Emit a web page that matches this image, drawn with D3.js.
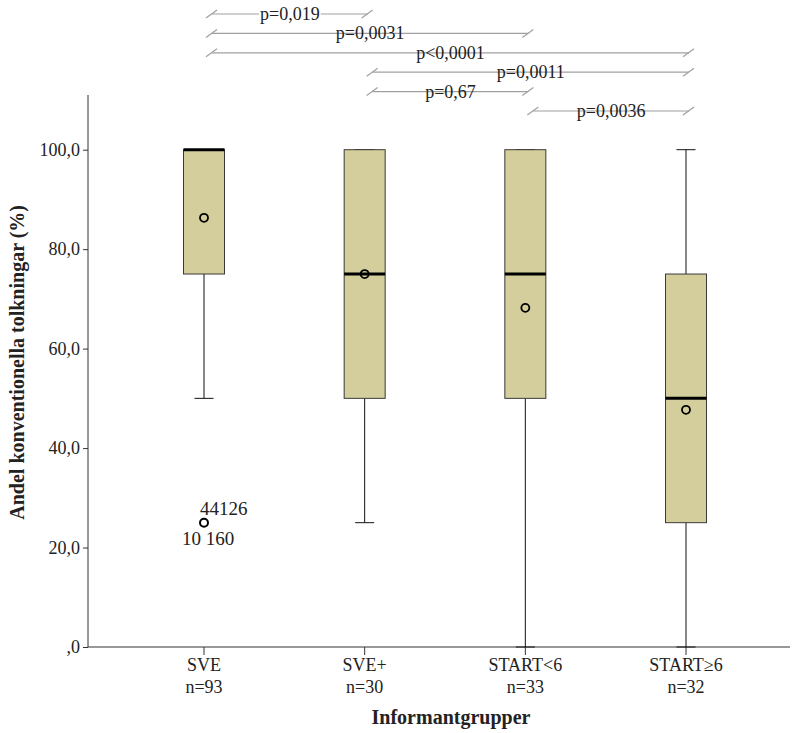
<!DOCTYPE html>
<html>
<head>
<meta charset="utf-8">
<script src="https://cdn.jsdelivr.net/npm/d3@7"></script>
<style>
  body { margin: 0; background: #fff; }
  svg text { font-family: "Liberation Serif", "Times New Roman", serif; fill: #222; }
</style>
</head>
<body>
<div id="viz"></div>
<script>
'use strict';

// groups and their sizes
const groups = ['SVE', 'SVE+', 'START<6', 'START≥6'];
const counts = [93, 30, 33, 32];

// box stats per group (percent)
const whiskLo = [50, 25, 0, 0];
const q1 = [75, 50, 50, 25];
const median = [100, 75, 75, 50];
const q3 = [100, 100, 100, 75];
const whiskHi = [100, 100, 100, 100];
const means = [86.3, 75.0, 68.2, 47.7];

// outliers
const outliers = [{group: 'SVE', value: 25, top: '44126', bottom: '10 160'}];

// y ticks
const yTicks = [0, 20, 40, 60, 80, 100];
const yTickLabels = [',0', '20,0', '40,0', '60,0', '80,0', '100,0'];

// pairwise comparisons
const pairs = [
  {from: 'SVE', to: 'SVE+', label: 'p=0,019'},
  {from: 'SVE', to: 'START<6', label: 'p=0,0031'},
  {from: 'SVE', to: 'START≥6', label: 'p<0,0001'},
  {from: 'SVE+', to: 'START≥6', label: 'p=0,0011'},
  {from: 'SVE+', to: 'START<6', label: 'p=0,67'},
  {from: 'START<6', to: 'START≥6', label: 'p=0,0036'}
];

const W = 796, H = 733;
const axisX = 88, axisY = 647;

const svg = d3.select('#viz')
  .append('svg')
    .attr('width', W)
    .attr('height', H);

const x = d3.scalePoint()
  .domain(groups)
  .range([204, 686]);

const y = d3.scaleLinear()
  .domain([0, 111])
  .range([axisY, 95]);

const boxW = 41;
const capW = 19;

// axes
const yAxis = d3.axisLeft(y)
  .tickValues(yTicks)
  .tickSize(5)
  .tickPadding(3)
  .tickFormat((d, i) => yTickLabels[i]);

svg.append('g')
  .attr('transform', `translate(${axisX},0)`)
  .call(yAxis)
  .call(g => g.select('.domain').attr('d', `M0,${y(111)}V${axisY}`).attr('stroke', '#333'))
  .call(g => g.selectAll('line').attr('stroke', '#333'))
  .call(g => g.selectAll('text').attr('font-size', 18).attr('font-family', '"Liberation Serif", serif').attr('fill', '#222'));

svg.append('line')
  .attr('x1', axisX).attr('x2', 790)
  .attr('y1', axisY).attr('y2', axisY)
  .attr('stroke', '#333');

const xt = svg.append('g');
groups.forEach((g, i) => {
  xt.append('line')
    .attr('x1', x(g)).attr('x2', x(g))
    .attr('y1', axisY).attr('y2', axisY + 8)
    .attr('stroke', '#333');
  xt.append('text')
    .attr('x', x(g)).attr('y', axisY + 24)
    .attr('text-anchor', 'middle')
    .attr('font-size', 18)
    .text(g);
  xt.append('text')
    .attr('x', x(g)).attr('y', axisY + 46)
    .attr('text-anchor', 'middle')
    .attr('font-size', 18)
    .text('n=' + counts[i]);
});

// axis titles
svg.append('text')
  .attr('x', 451).attr('y', 724)
  .attr('text-anchor', 'middle')
  .attr('font-size', 20)
  .attr('font-weight', 'bold')
  .text('Informantgrupper');

svg.append('text')
  .attr('transform', `translate(24,${(y(100) + axisY) / 2 - 36}) rotate(-90)`)
  .attr('text-anchor', 'middle')
  .attr('font-size', 20)
  .attr('font-weight', 'bold')
  .text('Andel konventionella tolkningar (%)');

// boxes
const boxes = svg.append('g');
groups.forEach((g, i) => {
  const cx = x(g);
  // whiskers
  boxes.append('line')
    .attr('x1', cx).attr('x2', cx)
    .attr('y1', y(whiskLo[i])).attr('y2', y(q1[i]))
    .attr('stroke', '#111');
  boxes.append('line')
    .attr('x1', cx).attr('x2', cx)
    .attr('y1', y(q3[i])).attr('y2', y(whiskHi[i]))
    .attr('stroke', '#111');
  [whiskLo[i], whiskHi[i]].forEach(v => {
    boxes.append('line')
      .attr('x1', cx - capW / 2).attr('x2', cx + capW / 2)
      .attr('y1', y(v)).attr('y2', y(v))
      .attr('stroke', '#111');
  });
  boxes.append('rect')
    .attr('x', cx - boxW / 2)
    .attr('y', y(q3[i]))
    .attr('width', boxW)
    .attr('height', y(q1[i]) - y(q3[i]))
    .attr('fill', '#d3ce9b')
    .attr('stroke', '#3a3a3a')
    .attr('stroke-width', 1);
  boxes.append('line')
    .attr('x1', cx - boxW / 2).attr('x2', cx + boxW / 2)
    .attr('y1', y(median[i])).attr('y2', y(median[i]))
    .attr('stroke', '#000')
    .attr('stroke-width', 3);
  boxes.append('circle')
    .attr('cx', cx).attr('cy', y(means[i]))
    .attr('r', 4)
    .attr('fill', 'none')
    .attr('stroke', '#000')
    .attr('stroke-width', 1.8);
});

// outliers
outliers.forEach(o => {
  const cx = x(o.group), cy = y(o.value);
  boxes.append('circle')
    .attr('cx', cx).attr('cy', cy)
    .attr('r', 4)
    .attr('fill', 'none')
    .attr('stroke', '#000')
    .attr('stroke-width', 2);
  boxes.append('text')
    .attr('x', cx - 4).attr('y', cy - 8)
    .attr('font-size', 19)
    .text(o.top);
  boxes.append('text')
    .attr('x', cx - 22).attr('y', cy + 22)
    .attr('font-size', 19)
    .text(o.bottom);
});

// significance brackets
const brackets = svg.append('g');
pairs.forEach((p, i) => {
  const by = 14 + i * 19.4;
  const x1 = x(p.from) + 8;
  const x2 = x(p.to) + 3;
  const mid = (x1 + x2) / 2;
  brackets.append('line')
    .attr('x1', x1).attr('x2', x2)
    .attr('y1', by).attr('y2', by)
    .attr('stroke', '#a0a0a0')
    .attr('stroke-width', 1.2);
  [x1, x2].forEach(ex => {
    brackets.append('line')
      .attr('x1', ex - 6).attr('y1', by + 4)
      .attr('x2', ex + 5).attr('y2', by - 4)
      .attr('stroke', '#a0a0a0')
      .attr('stroke-width', 1.2);
  });
  const t = brackets.append('text')
    .attr('x', mid).attr('y', by + 6)
    .attr('text-anchor', 'middle')
    .attr('font-size', 18)
    .text(p.label);
  const bb = t.node().getBBox();
  brackets.insert('rect', 'text')
    .attr('x', bb.x - 1).attr('y', by - 2)
    .attr('width', bb.width + 2).attr('height', 4)
    .attr('fill', '#fff');
});
</script>
</body>
</html>
